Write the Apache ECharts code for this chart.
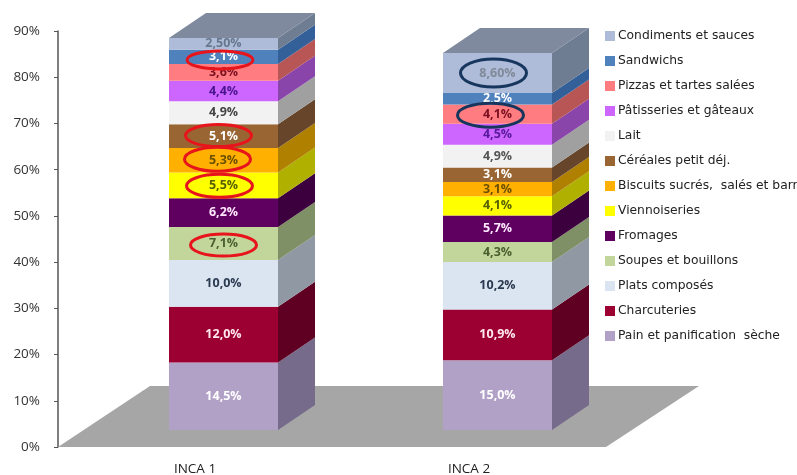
<!DOCTYPE html>
<html><head><meta charset="utf-8">
<style>html,body{margin:0;padding:0;background:#fff}#c{width:797px;height:475px}</style>
<script src="https://cdn.jsdelivr.net/npm/echarts@6/dist/echarts.min.js"></script>
</head><body><div id="c"></div>
<script>
// DATA (bottom of the stack first)
const categories = ['INCA 1', 'INCA 2'];
const groups = ['Pain et panification  sèche','Charcuteries','Plats composés','Soupes et bouillons','Fromages','Viennoiseries','Biscuits sucrés,  salés et barres','Céréales petit déj.','Lait','Pâtisseries et gâteaux','Pizzas et tartes salées','Sandwichs','Condiments et sauces'];
const inca1 = [14.5,12.0,10.0,7.1,6.2,5.5,5.3,5.1,4.9,4.4,3.6,3.1,2.5];
const inca2 = [15.0,10.9,10.2,4.3,5.7,4.1,3.1,3.1,4.9,4.5,4.1,2.5,8.6];
const labels1 = ['14,5%','12,0%','10,0%','7,1%','6,2%','5,5%','5,3%','5,1%','4,9%','4,4%','3,6%','3,1%','2,50%'];
const labels2 = ['15,0%','10,9%','10,2%','4,3%','5,7%','4,1%','3,1%','3,1%','4,9%','4,5%','4,1%','2,5%','8,60%'];
const yTicks = [0,10,20,30,40,50,60,70,80,90];

// STYLE
const frontColors = ['#b2a1c7','#9c0033','#dbe5f1','#c2d69b','#5f0060','#ffff00','#ffb000','#996633','#f2f2f2','#cc66ff','#ff7c80','#4f81bd','#aebbd9'];
const sideColors  = ['#766b8a','#5f0022','#8f98a3','#7f8f66','#3d003f','#b0b000','#b08000','#66452a','#a0a0a0','#8a45aa','#b85555','#34609a','#6f7d92'];
const labelColors = ['#ffffff','#ffe8f0','#2a3a50','#4a6030','#ffe8ff','#556000','#6b5000','#ffffff','#444444','#4a148c','#7a1020','#ffffff','#66788c'];
const label2Colors = ['#ffffff','#ffe8f0','#2a3a50','#4a6030','#ffe8ff','#556000','#6b5000','#ffffff','#555555','#5a1a9c','#7a1020','#ffffff','#808a99'];
const topColor = '#7f8a9e';
const floorColor = '#a6a6a6';
const FACE_W = 109, SHIFT = 28.5, DX = 37, DY = 25;
// circled segments: [category, group, dx, dy, ry, colour]
const circled = [
  [0,11,-3.5,3,9,'#e8141c'],[0,7,-5,-0.5,11,'#e8141c'],[0,6,-6,-1,12,'#e8141c'],[0,5,-4,0.5,11.5,'#e8141c'],[0,3,0,1.5,11,'#e8141c'],
  [1,12,-4,0,14,'#17365d'],[1,10,-7,1,12,'#17365d']
];

const stacks = [inca1, inca2];
const texts = [labels1, labels2];
const txtCol = [labelColors, label2Colors];
function rowsFor(g){
  return stacks.map((arr,c)=>{
    let s=0; for(let i=0;i<g;i++) s+=arr[i];
    return [c, +s.toFixed(2), +(s+arr[g]).toFixed(2)];
  });
}
const barSeries = groups.map((name,g)=>({
  type:'custom', name, yAxisIndex:1, z:3,
  itemStyle:{color:frontColors[g]},
  encode:{x:0,y:[1,2]},
  data:rowsFor(g),
  renderItem(params,api){
    const c=api.value(0);
    const a=api.coord([c,api.value(1)]), b=api.coord([c,api.value(2)]);
    const x=a[0]+SHIFT-FACE_W/2, r=x+FACE_W;
    const kids=[
      {type:'polygon',shape:{points:[[r,a[1]],[r+DX,a[1]-DY],[r+DX,b[1]-DY],[r,b[1]]]},style:{fill:sideColors[g]}},
      {type:'rect',shape:{x,y:b[1],width:FACE_W,height:a[1]-b[1]},style:{fill:frontColors[g]}},
      {type:'text',z2:5,style:{x:x+FACE_W/2,y:(a[1]+b[1])/2,text:texts[c][g],align:'center',verticalAlign:'middle',
        font:'bold 12.5px "Open Sans"',fill:txtCol[c][g]}}
    ];
    if(g===groups.length-1){
      kids.push({type:'polygon',shape:{points:[[x,b[1]],[x+DX,b[1]-DY],[r+DX,b[1]-DY],[r,b[1]]]},style:{fill:topColor}});
    }
    return {type:'group',children:kids};
  }
}));
const floorSeries = {
  type:'custom', name:'floor', silent:true, z:1, yAxisIndex:0,
  data:[[0,0]], encode:{x:0,y:1},
  renderItem(params,api){
    const cs=params.coordSys, y0=api.coord([0,0])[1], L=cs.x, R=cs.x+cs.width;
    return {type:'polygon',shape:{points:[[L,y0],[L+92,y0-61],[R+93,y0-61],[R,y0]]},style:{fill:floorColor}};
  }
};
const circleSeries = {
  type:'custom', name:'circled', silent:true, z:6, yAxisIndex:1,
  data:circled.map((d,i)=>{const arr=stacks[d[0]];let s=0;for(let k=0;k<d[1];k++)s+=arr[k];return [d[0],s+arr[d[1]]/2,i];}),
  encode:{x:0,y:1},
  renderItem(params,api){
    const p=api.coord([api.value(0),api.value(1)]), d=circled[api.value(2)];
    return {type:'ellipse',shape:{cx:p[0]+SHIFT+d[2],cy:p[1]+d[3],rx:33,ry:d[4]},
      style:{fill:null,stroke:d[5],lineWidth:3}};
  }
};
const chart = echarts.init(document.getElementById('c'),null,{renderer:'canvas'});
chart.setOption({
  animation:false,
  backgroundColor:'#fff',
  grid:{left:58,top:31,width:548,height:416,outerBoundsMode:'none'},
  legend:{
    data:groups.slice().reverse(), orient:'vertical', left:600, top:25, itemWidth:10, itemHeight:10, itemGap:13,
    icon:'rect', selectedMode:false,
    textStyle:{fontFamily:'DejaVu Sans',fontSize:12.3,lineHeight:11,color:'#222',padding:[0,0,0,-2]}
  },
  xAxis:{type:'category',data:categories,axisLine:{show:false},axisTick:{show:false},
    axisLabel:{margin:15,fontFamily:'Open Sans',fontSize:13.5,color:'#222'}},
  yAxis:[
    {type:'value',min:yTicks[0],max:yTicks[yTicks.length-1],interval:10,splitLine:{show:false},
     axisLine:{show:true,lineStyle:{color:'#555',width:1.5}},
     axisTick:{show:true,length:4,lineStyle:{color:'#555'}},
     axisLabel:{margin:18,fontFamily:'Open Sans',fontSize:13.5,color:'#333',formatter:'{value}%'}},
    {type:'value',show:false,min:-3.65,max:85.71,splitLine:{show:false},alignTicks:false}
  ],
  series:[floorSeries,...barSeries,circleSeries]
});
</script></body></html>
